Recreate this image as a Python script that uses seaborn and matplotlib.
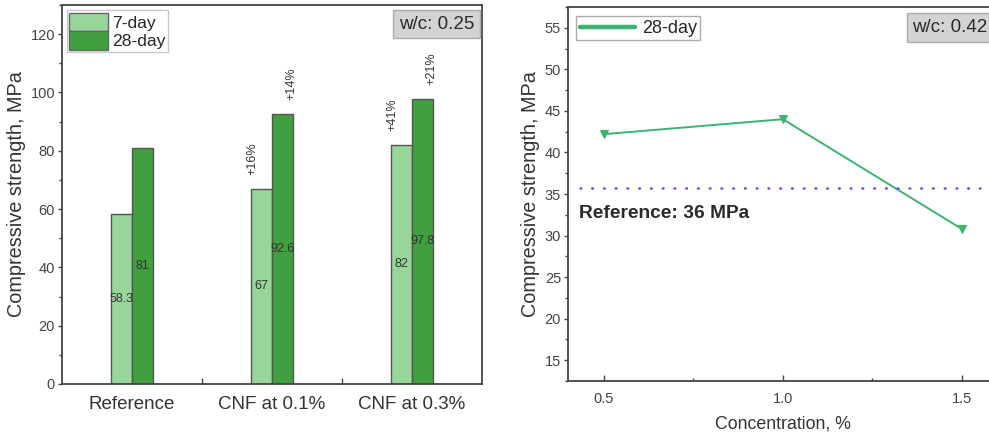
import matplotlib
matplotlib.use("Agg")
import matplotlib.pyplot as plt
import seaborn as sns
import pandas as pd
from matplotlib.ticker import MultipleLocator, FixedLocator
from matplotlib.lines import Line2D
from matplotlib.patches import Patch

# ---- data ----
categories = ["Reference", "CNF at 0.1%", "CNF at 0.3%"]
day7 = [58.3, 67.0, 82.0]
day28 = [81.0, 92.6, 97.8]
gain7 = ["", "+16%", "+41%"]
gain28 = ["", "+14%", "+21%"]

concentration = [0.5, 1.0, 1.5]
strength28_042 = [42.2, 44.0, 30.8]
reference_042 = 35.7

sns.set_theme(style="white")
plt.rcParams["font.family"] = ["Liberation Sans", "DejaVu Sans"]

fig = plt.figure(figsize=(9.89, 4.33), dpi=100)
ax1 = fig.add_axes([0.0627, 0.1132, 0.4247, 0.8753])
ax2 = fig.add_axes([0.5743, 0.1201, 0.4344, 0.8637])

light = "#98d598"
dark = "#40a040"
spine_c = "#444444"
tick_c = "#444444"
txt_c = "#2a2a2a"

df = pd.DataFrame({
    "cat": categories * 2,
    "val": day7 + day28,
    "age": ["7-day"] * 3 + ["28-day"] * 3,
})
sns.barplot(data=df, x="cat", y="val", hue="age", palette=[light, dark],
            width=0.3, edgecolor="#555555", linewidth=1.0, ax=ax1,
            saturation=1, legend=False)
ax1.set_xlim(-0.5, 2.5)
ax1.set_ylim(0, 130)

# value labels
for i in range(3):
    ax1.text(i - 0.075, day7[i] / 2, f"{day7[i]:g}", ha="center", va="center",
             fontsize=9, color="#333333")
    ax1.text(i + 0.075, day28[i] / 2, f"{day28[i]:g}", ha="center", va="center",
             fontsize=9, color="#333333")
    if gain7[i]:
        ax1.annotate(gain7[i], (i - 0.14, day7[i]), xytext=(0, 10),
                     textcoords="offset points", rotation=90, ha="center",
                     va="bottom", fontsize=9, color="#333333")
    if gain28[i]:
        ax1.annotate(gain28[i], (i + 0.14, day28[i]), xytext=(0, 10),
                     textcoords="offset points", rotation=90, ha="center",
                     va="bottom", fontsize=9, color="#333333")

ax1.set_xlabel("")
ax1.set_ylabel("Compressive strength, MPa", fontsize=14.3, color="#333333", labelpad=3)
ax1.yaxis.set_major_locator(MultipleLocator(20))
ax1.yaxis.set_minor_locator(MultipleLocator(10))
ax1.xaxis.set_minor_locator(FixedLocator([0.5, 1.5]))
ax1.tick_params(axis="y", which="major", direction="out", length=3, width=1,
                color=spine_c, labelsize=10.5, labelcolor=tick_c, left=True, pad=2)
ax1.tick_params(axis="y", which="minor", direction="out", length=2, width=1,
                color=spine_c, left=True)
ax1.tick_params(axis="x", which="major", length=0, labelsize=13.5, labelcolor="#333333", pad=9)
ax1.tick_params(axis="x", which="minor", direction="in", length=4, width=1,
                color=spine_c, bottom=True)

leg1 = ax1.legend(handles=[Patch(facecolor=light, edgecolor="#666666", label="7-day"),
                           Patch(facecolor=dark, edgecolor="#666666", label="28-day")],
                  loc="upper left", bbox_to_anchor=(0.003, 0.996), fontsize=12.6,
                  frameon=True, fancybox=False, edgecolor="#bbbbbb",
                  handlelength=2.2, handleheight=1.25, handletextpad=0.25,
                  labelspacing=0.0, borderpad=0.15, borderaxespad=0.2)
leg1.get_frame().set_linewidth(1.0)
ax1.text(0.982, 0.972, "w/c: 0.25", transform=ax1.transAxes, ha="right", va="top",
         fontsize=13.5, color=txt_c,
         bbox=dict(boxstyle="square,pad=0.3", facecolor="#d3d3d3", edgecolor="#aaaaaa"))

# ---- right panel ----
df2 = pd.DataFrame({"conc": concentration, "val": strength28_042})
line_c = "#3cb371"
sns.lineplot(data=df2, x="conc", y="val", color=line_c, linewidth=1.4,
             marker="v", markersize=5.5, markeredgecolor=line_c, ax=ax2)
ax2.axhline(reference_042, xmin=0.028, xmax=0.96, color="#5555dd",
            linestyle=(0, (0.3, 4.4)), linewidth=1.8, dash_capstyle="round")
ax2.text(0.432, 32.6, "Reference: 36 MPa", fontsize=13.8, fontweight="bold",
         color=txt_c, ha="left", va="center")
ax2.set_xlim(0.4, 1.6)
ax2.set_ylim(12.5, 57.5)
ax2.set_xticks(concentration)
ax2.set_xticklabels(["0.5", "1.0", "1.5"])
ax2.xaxis.set_minor_locator(FixedLocator([0.75, 1.25]))
ax2.yaxis.set_major_locator(MultipleLocator(5))
ax2.yaxis.set_minor_locator(MultipleLocator(2.5))
ax2.set_xlabel("Concentration, %", fontsize=12.8, color="#333333", labelpad=7)
ax2.set_ylabel("Compressive strength, MPa", fontsize=14.3, color="#333333", labelpad=3)
ax2.tick_params(axis="y", which="major", direction="out", length=3, width=1,
                color=spine_c, labelsize=10.5, labelcolor=tick_c, left=True, pad=2)
ax2.tick_params(axis="y", which="minor", direction="out", length=2, width=1,
                color=spine_c, left=True)
ax2.tick_params(axis="x", which="major", direction="in", length=4, width=1,
                color=spine_c, labelsize=10.5, labelcolor=tick_c, bottom=True, pad=8)
ax2.tick_params(axis="x", which="minor", direction="in", length=2.5, width=1,
                color=spine_c, bottom=True)

leg2 = ax2.legend(handles=[Line2D([], [], color=line_c, linewidth=3.2, label="28-day")],
                  loc="upper left", bbox_to_anchor=(0.01, 0.985), fontsize=13,
                  frameon=True, fancybox=False, edgecolor="#999999",
                  handlelength=3.1, handletextpad=0.35, borderpad=0.2, borderaxespad=0.2)
leg2.get_frame().set_linewidth(1.0)
ax2.text(0.9765, 0.968, "w/c: 0.42", transform=ax2.transAxes, ha="right", va="top",
         fontsize=13.5, color=txt_c,
         bbox=dict(boxstyle="square,pad=0.3", facecolor="#d3d3d3", edgecolor="#aaaaaa"))

for ax in (ax1, ax2):
    for s in ax.spines.values():
        s.set_color(spine_c)
        s.set_linewidth(1.3)

fig.savefig("out.png", dpi=100)
